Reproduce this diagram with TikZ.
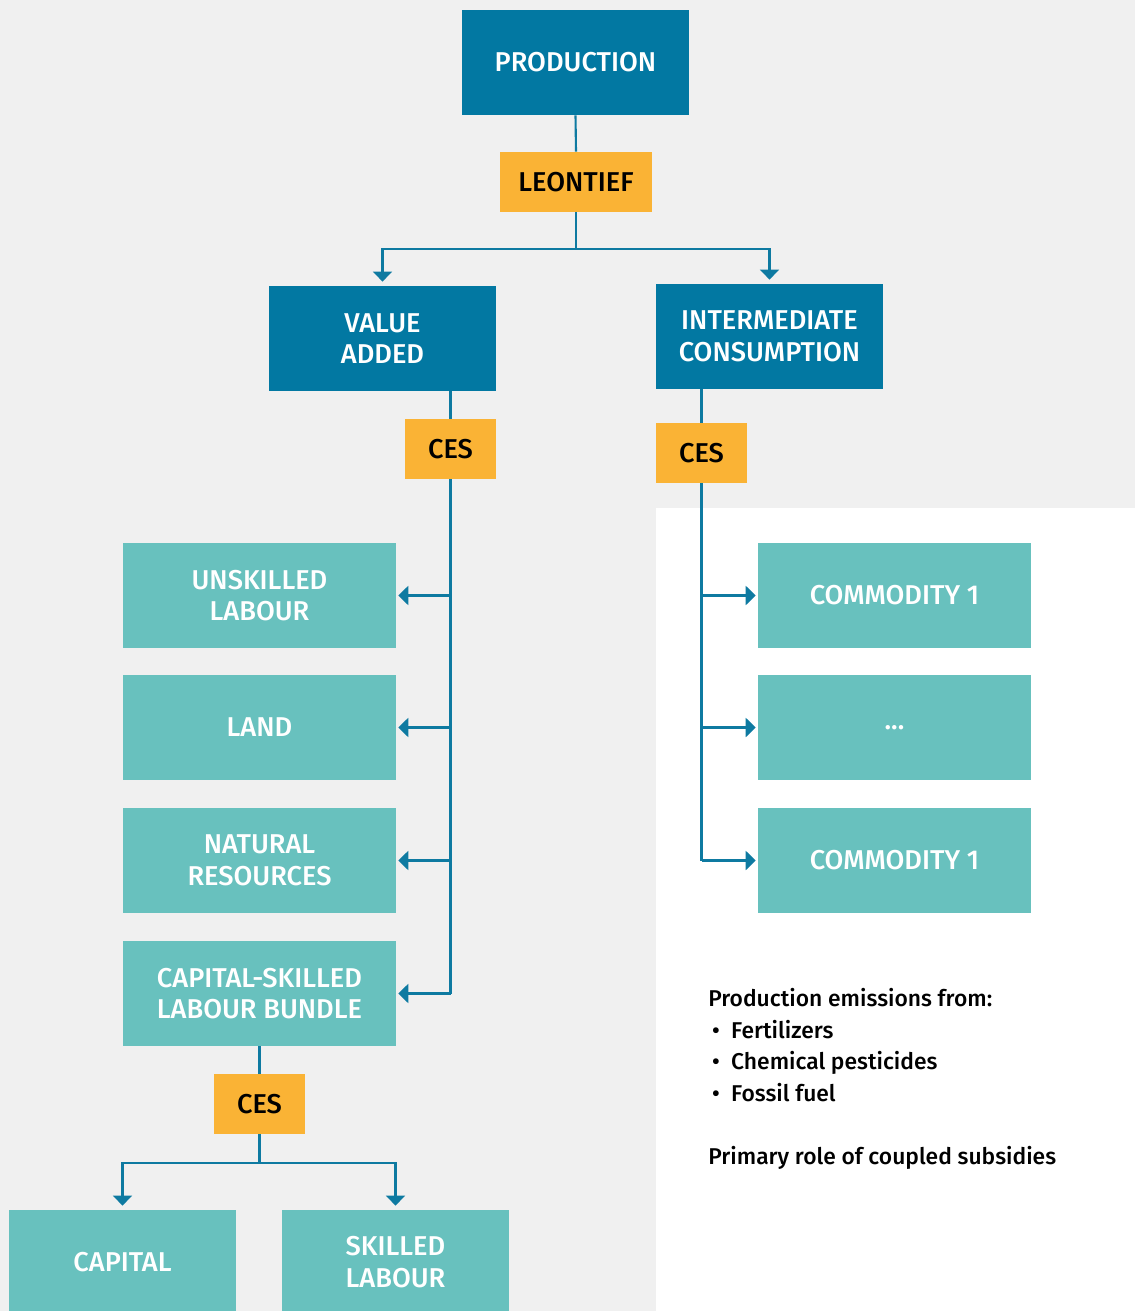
\documentclass[tikz,border=0pt]{standalone}
\usepackage{fontspec}
\setmainfont{Fira Sans}[UprightFont={* Medium}]
\usetikzlibrary{arrows.meta}
\definecolor{deepblue}{HTML}{0278A2}
\definecolor{lightteal}{HTML}{68C1BE}
\definecolor{cesorange}{HTML}{FAB335}
\definecolor{linkblue}{HTML}{0E7AA1}
\definecolor{panelgray}{HTML}{F0F0F0}
\tikzset{
	labelfont/.style={font=\fontsize{15.5}{18}\selectfont},
	mainbox/.style={labelfont, fill=deepblue, text=white, align=center, inner sep=0pt,
		minimum width=4.54cm, minimum height=2.1cm},
	inputbox/.style={labelfont, fill=lightteal, text=white, align=center, inner sep=0pt,
		minimum width=5.46cm, minimum height=2.1cm},
	endbox/.style={inputbox, minimum width=4.54cm, minimum height=2.08cm},
	fnbox/.style={labelfont, fill=cesorange, text=black, inner sep=0pt,
		minimum width=1.82cm, minimum height=1.2cm},
	link/.style={draw=linkblue, line width=1.2pt},
	arr/.style={link, -{Triangle[length=5.7pt, width=10.8pt]}},
	downarr/.style={arr, shorten >=2.3pt},
	sidearr/.style={arr, shorten >=1.1pt}
}

\begin{document}
\begin{tikzpicture}[x=0.02cm, y=-0.02cm]
	\fill[panelgray] (0,0) rectangle (1135,1311);
	\fill[white] (656,508) rectangle (1135,1311);
	\useasboundingbox (0,0) rectangle (1135,1311);

	\node[mainbox] (prod) at (575.5,62.5) {PRODUCTION};
	\node[fnbox, minimum width=3.04cm] (leon) at (576,182) {LEONTIEF};
	\node[mainbox] (va) at (382.5,338.5) {VALUE\\ADDED};
	\node[mainbox] (ic) at (769.5,336.5) {INTERMEDIATE\\CONSUMPTION};
	\node[fnbox] (cesva) at (450.5,449) {CES};
	\node[fnbox] (cesic) at (701.5,453) {CES};

	\node[inputbox] (unsk) at (259.5,595.5) {UNSKILLED\\LABOUR};
	\node[inputbox] (land) at (259.5,727.5) {LAND};
	\node[inputbox] (natres) at (259.5,860.5) {NATURAL\\RESOURCES};
	\node[inputbox] (bundle) at (259.5,993.5) {CAPITAL-SKILLED\\LABOUR BUNDLE};
	\node[fnbox] (cesb) at (259.5,1104) {CES};
	\node[endbox] (capital) at (122.5,1262) {CAPITAL};
	\node[endbox] (skill) at (395.5,1262) {SKILLED\\LABOUR};

	\node[inputbox] (com1) at (894.5,595.5) {COMMODITY 1};
	\node[inputbox] (dots) at (894.5,727.5) {...};
	\node[inputbox] (com2) at (894.5,860.5) {COMMODITY 1};

	\node[anchor=north west, inner sep=0pt, align=left, font=\fontsize{13}{18}\selectfont] (notes) at (708,988)
		{Production emissions from:\\
		\makebox[13pt][l]{\,\textbullet}Fertilizers\\
		\makebox[13pt][l]{\,\textbullet}Chemical pesticides\\
		\makebox[13pt][l]{\,\textbullet}Fossil fuel\\[18pt]
		Primary role of coupled subsidies};

	\draw[link] (prod.south) -- (leon.north);
	\draw[downarr] (leon.south) -- ++(0,37) -| (va.north);
	\draw[downarr] (leon.south) -- ++(0,37) -| (ic.north);

	\draw[link] (cesva.north |- va.south) -- (cesva.north);
	\draw[link] (cesva.south) -- (cesva.south |- bundle.east);
	\foreach \n in {unsk,land,natres,bundle}
		\draw[sidearr] (cesva.south |- \n.east) -- (\n.east);

	\draw[link] (cesic.north |- ic.south) -- (cesic.north);
	\draw[link] (cesic.south) -- (cesic.south |- com2.west);
	\foreach \n in {com1,dots,com2}
		\draw[sidearr] (cesic.south |- \n.west) -- (\n.west);

	\draw[link] (bundle.south) -- (cesb.north);
	\draw[downarr] (cesb.south) -- ++(0,29) -| (capital.north);
	\draw[downarr] (cesb.south) -- ++(0,29) -| (skill.north);
\end{tikzpicture}
\end{document}
